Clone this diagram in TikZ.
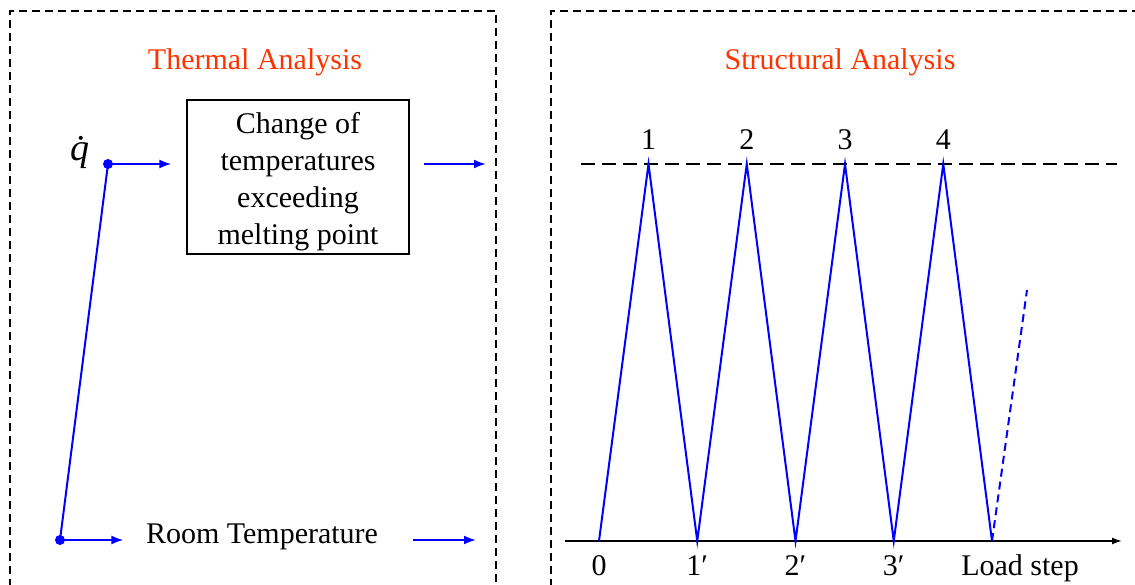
\documentclass[tikz,border=0pt]{standalone}
\usepackage{fontspec}
\setmainfont{Liberation Serif}
\usetikzlibrary{arrows.meta,positioning}
\definecolor{titlered}{RGB}{255,51,0}
\tikzset{
  frame/.style={line width=1.5pt, dash pattern=on 8pt off 5pt},
  bline/.style={blue, line width=2pt},
  flow/.style={bline, -{Latex[length=12pt,width=9pt]}},
  bdot/.style={blue, fill=blue},
  lbl/.style={anchor=base}
}
\begin{document}
\begin{tikzpicture}[x=1pt,y=-1pt,font=\fontsize{30}{37}\selectfont]
\useasboundingbox (0,0) rectangle (1135,585);
% frames
\draw[frame] (10,600) -- (10,11) -- (496,11) -- (496,600);
\draw[frame] (551,600) -- (551,11) -- (1150,11);
\node[titlered] (thermal) at (255,62) {Thermal Analysis};
\node[titlered] (struct) at (840,62) {Structural Analysis};

% thermal part
\node[draw, line width=1.2pt, minimum width=222pt, minimum height=154pt] (melt) at (298,177) {};
\node[align=center] (melttxt) at (298,182) {Change of\\temperatures\\exceeding\\melting point};
\coordinate (qpt) at (108,164);
\coordinate (rpt) at (60,540);
\coordinate (tout) at (486,164);
\coordinate (rout) at (476,540);
\node (qdot) at (80,152) {\fontsize{38}{40}\selectfont\itshape\.{q}};
\node (room) at (262,537) {Room Temperature};
\draw[bline] (qpt) -- (rpt);
\fill[bdot] (qpt) circle (5pt);
\fill[bdot] (rpt) circle (5pt);
\draw[flow, shorten >=15pt] (qpt) -- (qpt -| melt.west);
\draw[flow, shorten <=14pt] (melt.east |- tout) -- (tout);
\draw[flow, shorten >=19pt] (rpt) -- (rpt -| room.west);
\draw[flow, shorten <=31pt] (room.east |- rout) -- (rout);

% structural part
\coordinate (ax0) at (565,541);
\coordinate (ax1) at (1122,541);
\draw[line width=1.5pt, -{Latex[length=10pt,width=7pt]}] (ax0) -- (ax1);
\draw[line width=1.6pt, dash pattern=on 14pt off 7pt] (581,164) -- (1117,164);
\foreach \i in {0,...,4} \coordinate (b\i) at ({599+98.25*\i},541);
\foreach \i in {1,...,4} \coordinate (t\i) at ({550.25+98.25*\i},164);
\draw[bline] (b0) -- (t1) -- (b1) -- (t2) -- (b2) -- (t3) -- (b3) -- (t4) -- (b4);
\draw[bline, dash pattern=on 8pt off 5pt] (b4) -- (1027,290);
\foreach \i in {1,...,4} \node[lbl] (top\i) at ([yshift=14pt]t\i) {\i};
\node[lbl] (n0) at (599,575) {0};
\foreach \i in {1,2,3} \node[lbl] (n\i) at (b\i |- n0.base) {\i′};
\node[lbl] (load) at (1020,575) {Load step};
\end{tikzpicture}
\end{document}
